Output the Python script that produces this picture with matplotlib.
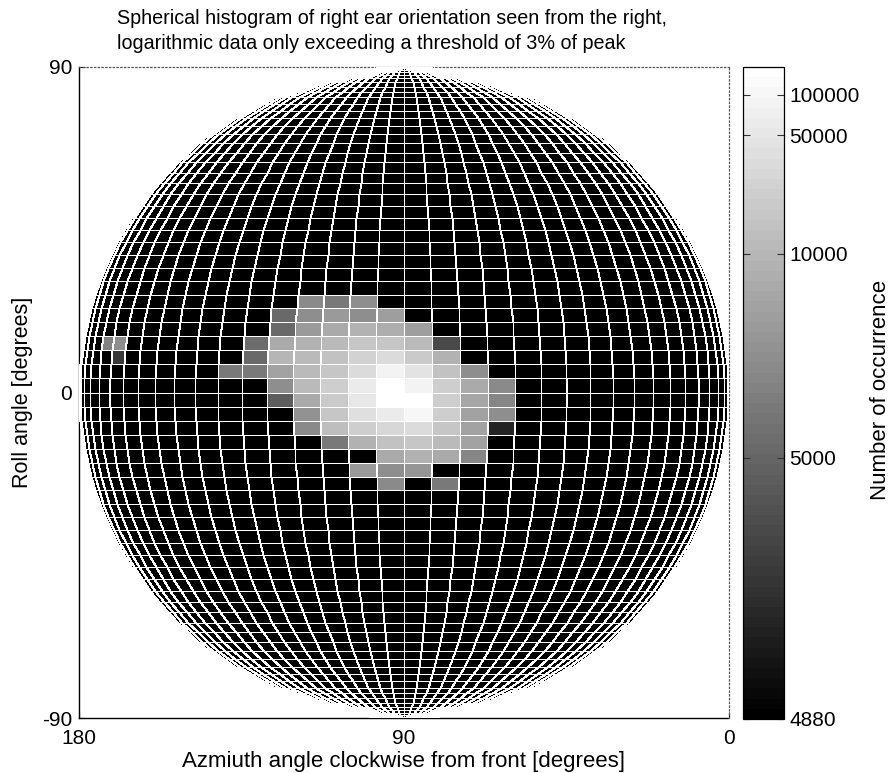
import numpy as np
import matplotlib
matplotlib.use("Agg")
import matplotlib.pyplot as plt
from matplotlib.colors import FuncNorm

plt.rcParams["font.family"] = ["Liberation Sans", "DejaVu Sans"]

# Histogram bin layout (degrees)
AZ_STEP = 5.0
ROLL_STEP = 2.5
az_edges = np.arange(0.0, 180.0 + AZ_STEP, AZ_STEP)
roll_edges = np.arange(-90.0, 90.0 + ROLL_STEP, ROLL_STEP)

threshold = 4880
peak = 162667

# Populated patch of the histogram: columns = azimuth bin lower edge,
# rows = roll bin lower edge, 0 = below threshold
patch_az = [120, 115, 110, 105, 100, 95, 90, 85, 80, 75, 70]
patch_roll = [15.0, 12.5, 10.0, 7.5, 5.0, 2.5, 0.0,
              -2.5, -5.0, -7.5, -10.0, -12.5, -15.0, -17.5]
patch_counts = [
    [0, 0, 0, 5560, 5156, 5601, 0, 0, 0, 0, 0],
    [0, 0, 5031, 5694, 6194, 5694, 6361, 0, 0, 0, 0],
    [0, 0, 5031, 6194, 7919, 8742, 8306, 6550, 0, 0, 0],
    [0, 5051, 7919, 8742, 11116, 16230, 16230, 10412, 4908, 0, 0],
    [0, 5031, 9788, 10412, 13812, 23205, 31127, 17674, 9234, 0, 0],
    [5156, 5192, 6762, 10412, 16230, 31127, 81997, 42472, 12804, 5601, 0],
    [0, 0, 5694, 10412, 21136, 58722, 162667, 81997, 21136, 7576, 5520],
    [0, 0, 4963, 7919, 17674, 52644, 150000, 144900, 19302, 7272, 5448],
    [0, 0, 0, 5797, 14949, 34466, 65573, 102864, 19302, 7002, 5601],
    [0, 0, 0, 5520, 11910, 19302, 28164, 31127, 16230, 7002, 4885],
    [0, 0, 0, 0, 5192, 8742, 13812, 16230, 11116, 6762, 0],
    [0, 0, 0, 0, 0, 0, 7576, 8742, 7576, 5384, 0],
    [0, 0, 0, 0, 0, 6194, 5694, 5914, 0, 0, 0],
    [0, 0, 0, 0, 0, 0, 5520, 0, 5192, 0, 0],
]

# Isolated bins away from the main patch
stray_az = [155, 150, 150]
stray_roll = [7.5, 7.5, 5.0]
stray_counts = [5290, 5694, 4895]

cbar_ticks = [4880, 5000, 10000, 50000, 100000]
cbar_labels = ["4880", "5000", "10000", "50000", "100000"]

# Assemble the full histogram grid
counts = np.zeros((len(roll_edges) - 1, len(az_edges) - 1))


def put(roll_lo, az_lo, value):
    i = int(round((roll_lo - roll_edges[0]) / ROLL_STEP))
    j = int(round((az_lo - az_edges[0]) / AZ_STEP))
    counts[i, j] = value


for r, row in zip(patch_roll, patch_counts):
    for a, v in zip(patch_az, row):
        put(r, a, v)
for r, a, v in zip(stray_roll, stray_az, stray_counts):
    put(r, a, v)

shown = np.where(counts >= threshold, counts, threshold)

# Orthographic view of the sphere from the right-hand side
AZ, RL = np.meshgrid(np.radians(az_edges), np.radians(roll_edges))
X = 90.0 - 90.0 * np.cos(RL) * np.cos(AZ)
Y = 90.0 * np.sin(RL)

offset = threshold - 1
norm = FuncNorm((lambda v: np.log10(np.maximum(np.asarray(v, float) - offset, 1.0)),
                 lambda y: 10.0 ** np.asarray(y, float) + offset),
                vmin=threshold, vmax=peak)
cmap = plt.get_cmap("gray", 64)

fig = plt.figure(figsize=(8.94, 7.73), dpi=100)
ax = fig.add_axes([79 / 894, 55 / 773, 650 / 894, 651 / 773])
cax = fig.add_axes([743 / 894, 54 / 773, 41 / 894, 652 / 773])

mesh = ax.pcolormesh(X, Y, shown, cmap=cmap, norm=norm, shading="flat",
                     edgecolors="white", linewidth=0.7, antialiased=False,
                     zorder=3)

ax.set_xlim(180, 0)
ax.set_ylim(-90, 90)
ax.set_xticks([180, 90, 0])
ax.set_xticklabels(["180", "90", "0"])
ax.set_yticks([-90, 0, 90])
ax.set_yticklabels(["-90", "0", "90"])
ax.tick_params(direction="in", length=4, width=0.8, labelsize=15, pad=5,
               colors="black")
ax.tick_params(axis="x", pad=8)

ax.spines["left"].set_color("black")
ax.spines["left"].set_linewidth(1.0)
ax.spines["bottom"].set_linestyle((0, (1, 1)))
ax.spines["bottom"].set_color("black")
ax.spines["bottom"].set_linewidth(1.0)
for side in ("top", "right"):
    ax.spines[side].set_linestyle((0, (1, 2)))
    ax.spines[side].set_color("#555555")
    ax.spines[side].set_linewidth(0.9)

ax.set_xlabel("Azmiuth angle clockwise from front [degrees]", fontsize=16,
              labelpad=2)
ax.set_ylabel("Roll angle [degrees]", fontsize=15.5, labelpad=6)

fig.text(117 / 894, 1 - 31 / 773,
         "Spherical histogram of right ear orientation seen from the right,\n"
         "logarithmic data only exceeding a threshold of 3% of peak",
         ha="left", va="center", fontsize=14.2, linespacing=1.42)

cbar = fig.colorbar(mesh, cax=cax)
cbar.set_ticks(cbar_ticks, labels=cbar_labels)
cax.minorticks_off()
cax.tick_params(which="both", direction="in", left=True, right=True,
                length=5, width=0.8, color="#333333", labelsize=15, pad=4)
cbar.outline.set_linewidth(0.9)
fig.text(880 / 894, 1 - 390 / 773, "Number of occurrence", rotation=90,
         ha="center", va="center", fontsize=16)

fig.savefig("out.png", dpi=100)
